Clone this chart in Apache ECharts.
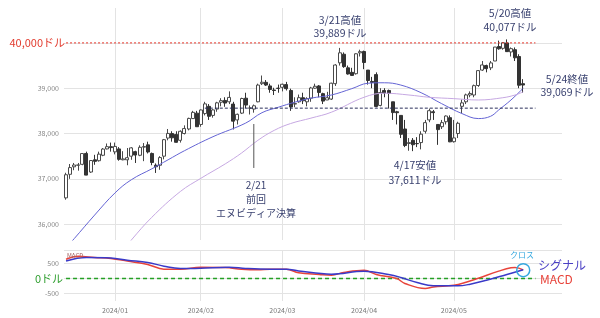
<!DOCTYPE html>
<html><head><meta charset="utf-8">
<script src="https://cdn.jsdelivr.net/npm/echarts@6/dist/echarts.min.js"></script>
<style>html,body{margin:0;padding:0;background:#fff}#c{width:600px;height:318px}</style>
</head><body><div id="c"></div>
<script>
// trading days shown
const dates = [
 '2023/12/13','2023/12/14','2023/12/15','2023/12/18','2023/12/19','2023/12/20','2023/12/21','2023/12/22','2023/12/26','2023/12/27','2023/12/28','2023/12/29',
 '2024/01/02','2024/01/03','2024/01/04','2024/01/05','2024/01/08','2024/01/09','2024/01/10','2024/01/11','2024/01/12','2024/01/16','2024/01/17','2024/01/18','2024/01/19','2024/01/22','2024/01/23','2024/01/24','2024/01/25','2024/01/26','2024/01/29','2024/01/30','2024/01/31',
 '2024/02/01','2024/02/02','2024/02/05','2024/02/06','2024/02/07','2024/02/08','2024/02/09','2024/02/12','2024/02/13','2024/02/14','2024/02/15','2024/02/16','2024/02/20','2024/02/21','2024/02/22','2024/02/23','2024/02/26','2024/02/27','2024/02/28','2024/02/29',
 '2024/03/01','2024/03/04','2024/03/05','2024/03/06','2024/03/07','2024/03/08','2024/03/11','2024/03/12','2024/03/13','2024/03/14','2024/03/15','2024/03/18','2024/03/19','2024/03/20','2024/03/21','2024/03/22','2024/03/25','2024/03/26','2024/03/27','2024/03/28',
 '2024/04/01','2024/04/02','2024/04/03','2024/04/04','2024/04/05','2024/04/08','2024/04/09','2024/04/10','2024/04/11','2024/04/12','2024/04/15','2024/04/16','2024/04/17','2024/04/18','2024/04/19','2024/04/22','2024/04/23','2024/04/24','2024/04/25','2024/04/26','2024/04/29','2024/04/30',
 '2024/05/01','2024/05/02','2024/05/03','2024/05/06','2024/05/07','2024/05/08','2024/05/09','2024/05/10','2024/05/13','2024/05/14','2024/05/15','2024/05/16','2024/05/17','2024/05/20','2024/05/21','2024/05/22','2024/05/23','2024/05/24'
];
// empty room on the right of the chart
const padDates = ['2024/05/28','2024/05/29','2024/05/30','2024/05/31','2024/06/03','2024/06/04','2024/06/05','2024/06/06','2024/06/07'];

const opens = [
 36580,37100,37265,37300,37320,37560,37150,37420,37400,37520,37660,37710,
 37595,37660,37420,37420,37500,37600,37520,37700,37750,37560,37300,37300,37500,37900,38000,37980,37850,38000,38100,38330,38450,
 38200,38440,38600,38400,38540,38690,38730,38700,38650,38300,38450,38780,38560,38540,38700,39100,39130,39050,38960,39000,
 39020,39080,38950,38650,38700,38790,38700,38780,39000,39050,38880,38740,38760,39100,39560,39750,39450,39350,39320,39780,
 39810,39400,39150,39300,38620,38950,38950,38700,38480,38400,38100,37780,37850,37780,37800,38050,38300,38480,38200,38150,38260,38350,
 37820,38000,38600,38700,38850,38850,39060,39400,39500,39450,39600,39920,39880,40000,39800,39850,39700,39100
];
const closes = [
 37090,37248,37305,37306,37558,37082,37404,37386,37545,37657,37710,37690,
 37715,37430,37440,37466,37683,37525,37696,37711,37593,37361,37267,37469,37864,38002,37905,37806,38049,38109,38333,38467,38150,
 38520,38654,38380,38521,38677,38726,38672,38797,38273,38424,38773,38628,38564,38612,39069,39132,39069,38972,38949,38996,
 39087,38990,38585,38661,38791,38723,38770,39005,39043,38906,38715,38790,39111,39512,39781,39476,39314,39282,39760,39807,
 39567,39170,39127,38597,38904,38893,38884,38462,38459,37983,37735,37799,37753,37775,37986,38240,38504,38461,38086,38240,38386,37816,
 37903,38226,38676,38852,38884,39056,39388,39513,39432,39558,39908,39869,40004,39807,39873,39671,39065,39070
];
const lows = [
 36540,37000,37190,37180,37300,37080,37130,37310,37380,37500,37650,37600,
 37540,37400,37410,37300,37420,37350,37500,37390,37560,37300,37130,37200,37430,37850,37820,37800,37800,37980,38070,38320,38150,
 38150,38400,38300,38350,38480,38600,38590,38650,38090,38200,38430,38560,38420,38460,38690,39070,39050,38900,38850,38900,
 38930,38950,38500,38580,38680,38650,38600,38700,38990,38800,38650,38740,38740,39050,39500,39450,39300,39280,39300,39700,
 39420,39080,39000,38580,38600,38800,38550,38300,38200,37900,37700,37620,37611,37700,37650,38000,38250,38300,37750,38100,38200,37810,
 37800,37900,38450,38650,38800,38800,39030,39380,39350,39400,39600,39850,39850,39800,39700,39600,39000,38900
];
const highs = [
 37134,37327,37350,37350,37570,37600,37410,37530,37600,37680,37780,37800,
 37800,37700,37610,37680,37700,37620,37740,37790,37820,37580,37340,37500,37880,38100,38050,38050,38070,38180,38350,38500,38500,
 38530,38700,38650,38540,38700,38780,38800,38930,38700,38440,38790,38900,38620,38640,39100,39280,39180,39100,39010,39080,
 39100,39140,38990,38800,38860,38900,38800,39030,39100,39070,38900,38920,39120,39530,39889,39790,39500,39450,39770,39850,
 39830,39400,39250,39350,39000,39000,38970,38700,38500,38400,38300,37900,37900,37920,38050,38300,38550,38520,38200,38300,38400,38400,
 38300,38260,38750,38880,38930,39080,39400,39600,39520,39600,39910,40050,40020,40077,39900,39900,39750,39200
];

// moving averages: [trading-day index, value]
const maShort = [[0,35480],[2,35680],[7,36200],[12,36690],[16,36980],[21,37220],[25,37420],[29,37620],[36,37930],[44,38230],[48,38460],[52,38580],[56,38690],[60,38780],[65,38850],[70,38990],[74,39110],[78,39120],[82,39070],[87,38900],[92,38660],[97,38440],[101,38330],[104,38380],[106,38520],[109,38740],[112,39000]];
const maLong = [[14,35420],[16,35650],[21,36150],[28,36720],[33,37010],[39,37330],[43,37570],[47,37850],[51,38070],[55,38220],[60,38340],[65,38470],[73,38800],[78,38890],[84,38850],[89,38800],[95,38770],[101,38740],[107,38790],[110,38850],[112,38920]];

// MACD panel: [trading-day index, value]
const macdLine = [[0,640],[3,740],[7,700],[11,665],[15,580],[20,470],[24,310],[28,310],[33,375],[39,365],[43,310],[47,290],[50,310],[54,310],[57,190],[62,135],[65,110],[68,200],[73,275],[76,135],[81,0],[83,-165],[88,-330],[90,-280],[95,-225],[98,-125],[101,10],[106,245],[109,360],[110,370],[112,285]];
const signalLine = [[0,585],[5,700],[11,685],[15,610],[20,535],[24,410],[28,335],[33,345],[40,375],[44,335],[50,310],[54,310],[57,250],[65,145],[73,243],[79,133],[82,35],[86,-135],[90,-245],[96,-245],[99,-190],[103,-57],[108,135],[112,290]];

// reference levels
const level40000 = 40000;
const levelDashed = 38560;
const dashedStartIndex = 34;
const nvdaDayIndex = 46;         // 2/21
const nvdaLine = [38210, 37240];
const crossPoint = [112, 277];
const lineEndIndex = 115;

const FONT = "'Noto Sans CJK JP','Noto Sans',sans-serif";
const cats = dates.concat(padDates);
const isMonthStart = (i) => i > 0 && i < dates.length && dates[i].slice(0,7) !== dates[i-1].slice(0,7);
const GRID = '#e3e3e3';

const xAx = (gi, showLabel) => ({
  type:'category', gridIndex:gi, data:cats, boundaryGap:true,
  axisLine:{show:false}, axisTick:{show:false},
  axisLabel:{show:showLabel, interval:(i)=>isMonthStart(i), formatter:(v)=>v.slice(0,7), color:'#777', fontSize:7, margin:6, fontFamily:FONT},
  splitLine:{show:true, interval:(i)=>isMonthStart(i), alignWithLabel:true, lineStyle:{color:GRID, width:1}}
});

const chart = echarts.init(document.getElementById('c'), null, {renderer:'canvas'});
const ann = (x, y, text, fill, size, align, lh) => ({
  type:'text', x, y, silent:true, z:100,
  style:{text, fill, fontSize:size, fontFamily:FONT, align:align||'center', verticalAlign:'middle', lineHeight:lh||14}
});
const NAVY = '#3a4270';

// a two-point series for one reference line
const refLine = (xi, yi, from, to, color, type, width) => ({
  type:'line', xAxisIndex:xi, yAxisIndex:yi, data:[from, to], symbol:'none', silent:true, z:3,
  lineStyle:{color, type, width}, emphasis:{disabled:true}
});

chart.setOption({
  animation:false,
  backgroundColor:'#fff',
  grid:[
    {left:64, right:38, top:8, height:232},
    {left:64, right:38, top:250, height:51}
  ],
  xAxis:[xAx(0,false), xAx(1,true)],
  yAxis:[
    {type:'value', gridIndex:0, min:35650, max:40770, splitNumber:5,
     axisLine:{show:false}, axisTick:{show:false},
     axisLabel:{color:'#888', fontSize:7, margin:5, fontFamily:FONT,
       formatter:(v)=> (v % 1000 === 0 && v !== level40000) ? v.toLocaleString('en-US') : ''},
     splitLine:{lineStyle:{color:GRID}, showMinLine:false, showMaxLine:false}},
    {type:'value', gridIndex:1, min:-750, max:950, splitNumber:3,
     axisLine:{show:false}, axisTick:{show:false},
     axisLabel:{color:'#888', fontSize:7, margin:5, fontFamily:FONT,
       formatter:(v)=> (v === 500 || v === -500) ? String(v) : ''},
     splitLine:{lineStyle:{color:GRID}, showMinLine:false, showMaxLine:true}}
  ],
  series:[
    {type:'candlestick', xAxisIndex:0, yAxisIndex:0, barWidth:3.5,
     data: opens.map((o,i)=>[o, closes[i], lows[i], highs[i]]),
     itemStyle:{color:'#ffffff', color0:'#333333', borderColor:'#4a4a4a', borderColor0:'#333333', borderWidth:1}
    },
    {type:'line', xAxisIndex:0, yAxisIndex:0, data:maShort, smooth:0.4, symbol:'none',
     lineStyle:{color:'#6464d4', width:1}},
    {type:'line', xAxisIndex:0, yAxisIndex:0, data:maLong, smooth:0.4, symbol:'none',
     lineStyle:{color:'#c6a8e2', width:1}},
    refLine(0, 0, [0, level40000], [lineEndIndex, level40000], '#e8352a', [2,2], 1),
    refLine(0, 0, [dashedStartIndex, levelDashed], [lineEndIndex, levelDashed], '#2a2f5a', [3,2], 1),
    refLine(0, 0, [nvdaDayIndex, nvdaLine[0]], [nvdaDayIndex, nvdaLine[1]], '#555555', 'solid', 1),
    refLine(1, 1, [0, 0], [lineEndIndex, 0], '#25a025', [4,3], 1.5),
    {type:'line', xAxisIndex:1, yAxisIndex:1, data:macdLine, smooth:0.4, symbol:'none',
     lineStyle:{color:'#e8433a', width:1.5},
     markPoint:{silent:true, symbol:'circle', symbolSize:13,
       itemStyle:{color:'rgba(0,0,0,0)', borderColor:'#35a8df', borderWidth:1.5},
       label:{show:false},
       data:[{coord:crossPoint}]}
    },
    {type:'line', xAxisIndex:1, yAxisIndex:1, data:signalLine, smooth:0.4, symbol:'none',
     lineStyle:{color:'#3a3ac8', width:1.5}}
  ],
  graphic:[
    ann(65, 43, '40,000ドル', '#e23b2e', 11, 'right'),
    ann(340, 26.5, '3/21高値\n39,889ドル', NAVY, 10.5, 'center', 13),
    ann(510, 20, '5/20高値\n40,077ドル', NAVY, 10.5, 'center', 14),
    ann(567, 85.5, '5/24終値\n39,069ドル', NAVY, 10.5, 'center', 13),
    ann(415, 172.5, '4/17安値\n37,611ドル', NAVY, 10.5, 'center', 15),
    ann(256, 199, '2/21\n前回\nエヌビディア決算', NAVY, 10, 'center', 14),
    ann(63, 279, '0ドル', '#2e9e2e', 11, 'right'),
    ann(67, 255.5, 'MACD', '#a06060', 6, 'left'),
    ann(522, 255, 'クロス', '#35a8df', 8, 'center'),
    ann(538, 265, 'シグナル', '#4a3fc4', 12, 'left'),
    ann(540, 279.5, 'MACD', '#e8433a', 12, 'left')
  ]
});
</script></body></html>
